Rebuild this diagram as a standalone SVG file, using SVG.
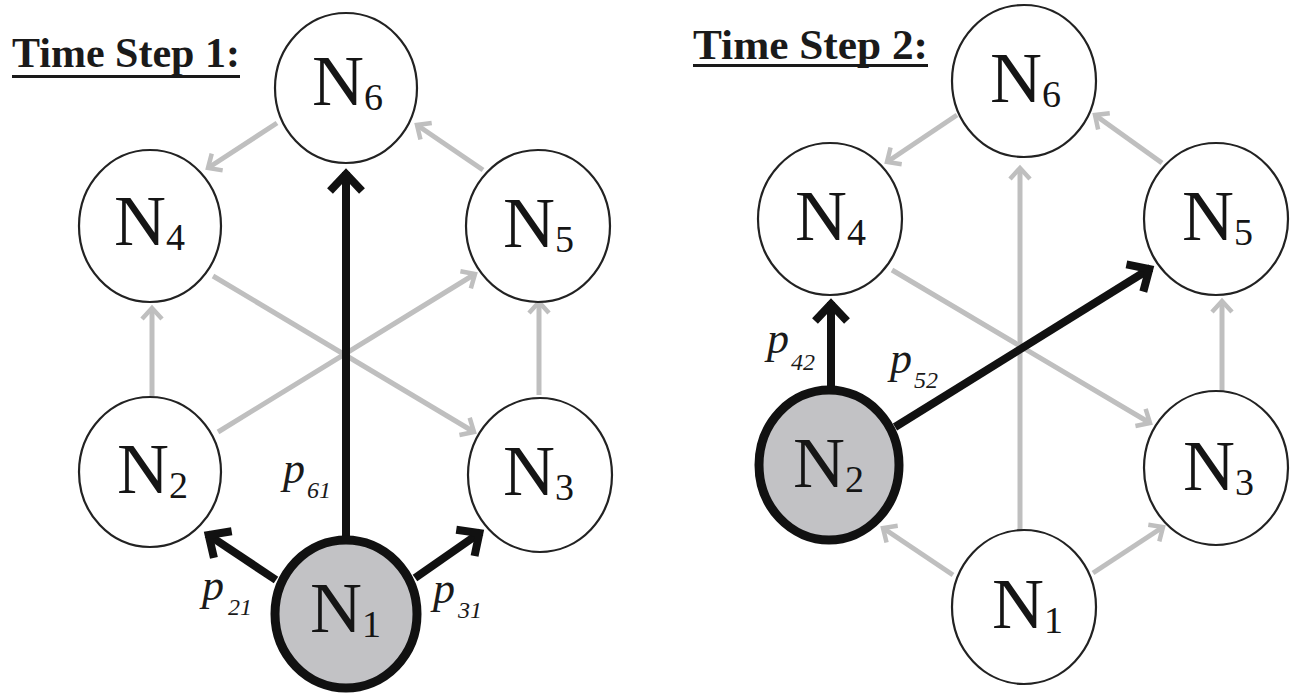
<svg xmlns="http://www.w3.org/2000/svg" width="1298" height="696" viewBox="0 0 1298 696">
  <defs>
    <style>
      .node { fill: #ffffff; stroke: #222222; stroke-width: 2.2; }
      .active { fill: #c2c2c5; stroke: #111111; stroke-width: 9; }
      .lbl { font-family: "Liberation Serif", "Times New Roman", serif; font-size: 72px; fill: #151515; }
      .sub { font-size: 38px; }
      .edge { fill: none; stroke: #bfbfbf; stroke-width: 5; marker-end: url(#gray-head); }
      .hot { fill: none; stroke: #111111; stroke-width: 8; marker-end: url(#black-head); }
      .prob { font-family: "Liberation Serif", "Times New Roman", serif; font-style: italic; font-size: 44px; fill: #1a1a1a; }
      .psub { font-size: 24px; }
      .title { font-family: "Liberation Serif", "Times New Roman", serif; font-weight: bold; font-size: 42px; fill: #1a1a1a; }
    </style>
    <marker id="gray-head" markerUnits="userSpaceOnUse" viewBox="-20 -20 30 40" markerWidth="30" markerHeight="40" refX="0" refY="0" orient="auto" overflow="visible">
      <path d="M -11 -10 L 0 0 L -11 10" fill="none" stroke="#bfbfbf" stroke-width="4.5" stroke-linejoin="miter"/>
    </marker>
    <marker id="black-head" markerUnits="userSpaceOnUse" viewBox="-30 -30 45 60" markerWidth="45" markerHeight="60" refX="0" refY="0" orient="auto" overflow="visible">
      <path d="M -19 -16 L -2 0 L -19 16" fill="none" stroke="#111111" stroke-width="8" stroke-linejoin="miter"/>
    </marker>
  </defs>

  <rect width="1298" height="696" fill="#ffffff"/>

  <!-- titles -->
  <g id="title-1">
    <text class="title" x="12" y="67" textLength="228" lengthAdjust="spacingAndGlyphs">Time Step 1:</text>
    <rect x="12" y="75" width="228" height="3" fill="#1a1a1a"/>
  </g>
  <g id="title-2">
    <text class="title" x="693" y="59" textLength="235" lengthAdjust="spacingAndGlyphs">Time Step 2:</text>
    <rect x="693" y="64" width="235" height="3" fill="#1a1a1a"/>
  </g>

  <!-- connectors, step 1 -->
  <g id="connectors-1">
    <line class="edge" x1="277" y1="123" x2="208" y2="168"/>
    <line class="edge" x1="483" y1="170" x2="417" y2="125"/>
    <line class="edge" x1="152" y1="396" x2="152" y2="308"/>
    <line class="edge" x1="218" y1="432" x2="475" y2="274"/>
    <line class="edge" x1="213" y1="276" x2="474" y2="432"/>
    <line class="edge" x1="539" y1="395" x2="539" y2="302"/>
    <line class="hot" x1="346" y1="536" x2="346" y2="172"/>
    <line class="hot" x1="276" y1="580" x2="207" y2="534"/>
    <line class="hot" x1="415" y1="578" x2="481" y2="532"/>
  </g>

  <!-- connectors, step 2 -->
  <g id="connectors-2">
    <line class="edge" x1="957" y1="115" x2="887" y2="162"/>
    <line class="edge" x1="1162" y1="163" x2="1095" y2="115"/>
    <line class="edge" x1="1020" y1="530" x2="1020" y2="168"/>
    <line class="edge" x1="892" y1="270" x2="1150" y2="423"/>
    <line class="edge" x1="1222" y1="391" x2="1222" y2="301"/>
    <line class="edge" x1="953" y1="575" x2="883" y2="528"/>
    <line class="edge" x1="1093" y1="573" x2="1163" y2="527"/>
    <line class="hot" x1="831" y1="386" x2="831" y2="302"/>
    <line class="hot" x1="895" y1="427" x2="1151" y2="268"/>
  </g>

  <!-- edge probabilities -->
  <g id="probabilities">
    <text class="prob" x="283" y="483">p<tspan class="psub" x="307" y="498">61</tspan></text>
    <text class="prob" x="202" y="600">p<tspan class="psub" x="228" y="615">21</tspan></text>
    <text class="prob" x="433" y="603">p<tspan class="psub" x="458" y="618">31</tspan></text>
    <text class="prob" x="767" y="353">p<tspan class="psub" x="791" y="370">42</tspan></text>
    <text class="prob" x="890" y="373">p<tspan class="psub" x="914" y="388">52</tspan></text>
  </g>

  <!-- step 1 nodes -->
  <g id="s1-n6">
    <ellipse class="node" cx="346" cy="88" rx="71" ry="75"/>
    <text class="lbl" x="312" y="105">N<tspan class="sub" dy="5">6</tspan></text>
  </g>
  <g id="s1-n4">
    <ellipse class="node" cx="150" cy="226" rx="71" ry="76"/>
    <text class="lbl" x="114" y="245">N<tspan class="sub" dy="5">4</tspan></text>
  </g>
  <g id="s1-n5">
    <ellipse class="node" cx="538" cy="226" rx="72" ry="76"/>
    <text class="lbl" x="503" y="247">N<tspan class="sub" dy="5">5</tspan></text>
  </g>
  <g id="s1-n2">
    <ellipse class="node" cx="150" cy="472" rx="71" ry="75"/>
    <text class="lbl" x="117" y="493">N<tspan class="sub" dy="5">2</tspan></text>
  </g>
  <g id="s1-n3">
    <ellipse class="node" cx="540" cy="475" rx="72" ry="77"/>
    <text class="lbl" x="503" y="495">N<tspan class="sub" dy="5">3</tspan></text>
  </g>
  <g id="s1-n1">
    <ellipse class="active" cx="346" cy="614" rx="71" ry="74"/>
    <text class="lbl" x="310" y="632">N<tspan class="sub" dy="5">1</tspan></text>
  </g>

  <!-- step 2 nodes -->
  <g id="s2-n6">
    <ellipse class="node" cx="1024" cy="81" rx="72" ry="76"/>
    <text class="lbl" x="990" y="102">N<tspan class="sub" dy="5">6</tspan></text>
  </g>
  <g id="s2-n4">
    <ellipse class="node" cx="830" cy="219" rx="72" ry="76"/>
    <text class="lbl" x="795" y="240">N<tspan class="sub" dy="5">4</tspan></text>
  </g>
  <g id="s2-n5">
    <ellipse class="node" cx="1216" cy="219" rx="72" ry="76"/>
    <text class="lbl" x="1182" y="240">N<tspan class="sub" dy="5">5</tspan></text>
  </g>
  <g id="s2-n2">
    <ellipse class="active" cx="829" cy="465" rx="70" ry="75"/>
    <text class="lbl" x="793" y="487">N<tspan class="sub" dy="5">2</tspan></text>
  </g>
  <g id="s2-n3">
    <ellipse class="node" cx="1216" cy="468" rx="72" ry="77"/>
    <text class="lbl" x="1183" y="490">N<tspan class="sub" dy="5">3</tspan></text>
  </g>
  <g id="s2-n1">
    <ellipse class="node" cx="1024" cy="607" rx="72" ry="77"/>
    <text class="lbl" x="992" y="628">N<tspan class="sub" dy="5">1</tspan></text>
  </g>
</svg>
